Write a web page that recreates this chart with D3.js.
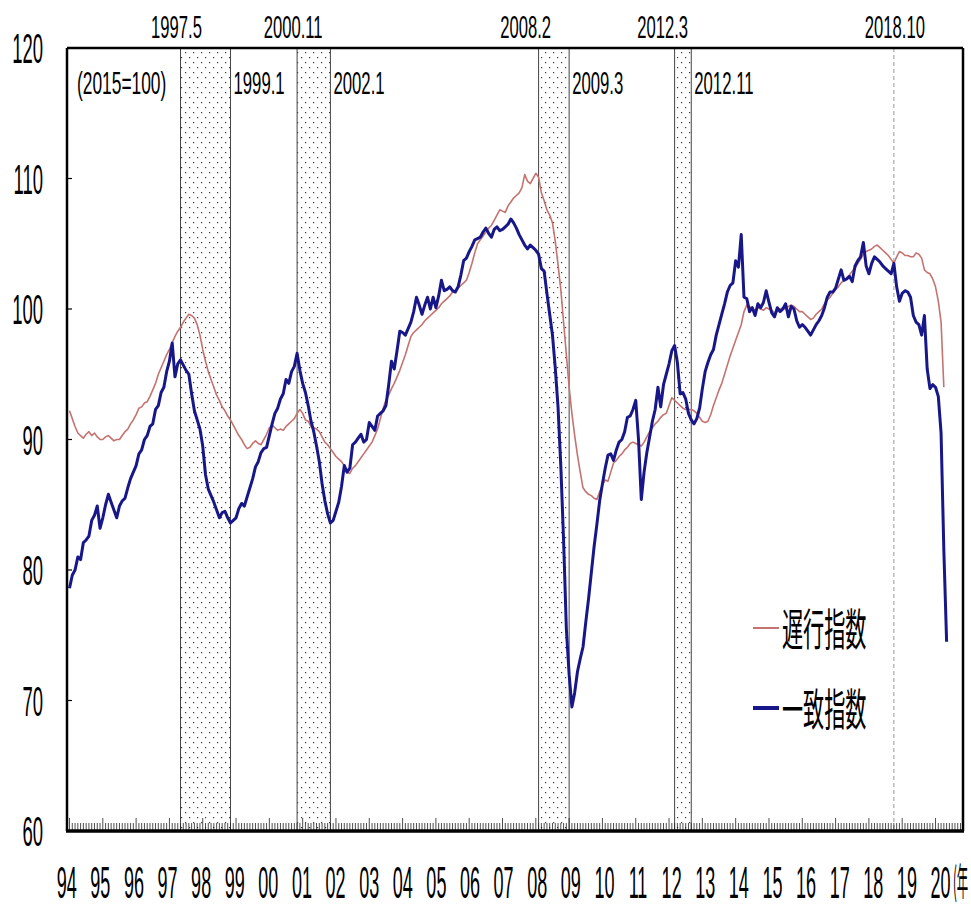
<!DOCTYPE html>
<html>
<head>
<meta charset="utf-8">
<script src="https://cdn.jsdelivr.net/npm/d3@7"></script>
<style>
  html, body { margin: 0; padding: 0; background: #fff; }
  svg { display: block; }
</style>
</head>
<body>
<div id="chart"></div>
<script>
// monthly index values (2015=100), first value is Jan 1994
var startYear = 1994;

var coincident = [
  78.6, 79.6, 80.0, 81.0, 80.8, 82.1, 82.3, 82.6, 83.8, 84.2, 84.9, 83.2,   // 1994
  84.0, 85.0, 85.8, 85.2, 84.6, 84.0, 84.9, 85.3, 85.5, 86.3, 87.0, 87.5,   // 1995
  88.0, 88.9, 89.2, 90.0, 90.3, 91.0, 91.2, 92.3, 92.6, 93.6, 94.0, 95.2,   // 1996
  96.0, 97.4, 94.8, 95.8, 96.1, 95.7, 95.3, 95.0, 93.5, 92.2, 91.5, 90.8,   // 1997
  89.5, 87.3, 86.2, 85.7, 85.2, 84.6, 84.0, 84.4, 84.5, 84.0, 83.6, 83.8,   // 1998
  84.0, 84.7, 85.1, 84.9, 85.6, 86.3, 87.0, 87.9, 88.3, 89.0, 89.3, 89.4,   // 1999
  90.3, 91.2, 92.0, 92.4, 93.1, 93.5, 94.6, 94.3, 95.2, 95.6, 96.6, 95.3,   // 2000
  94.3, 93.6, 92.6, 91.4, 90.6, 89.5, 88.3, 86.6, 85.3, 84.3, 83.6, 83.8,   // 2001
  84.5, 85.2, 86.4, 88.0, 87.5, 87.8, 89.6, 89.8, 90.1, 90.4, 89.8, 90.0,   // 2002
  91.3, 91.0, 90.7, 91.8, 92.0, 92.2, 92.6, 94.2, 96.0, 95.4, 96.8, 98.3,   // 2003
  98.2, 98.0, 98.5, 99.0, 99.8, 100.9, 100.3, 99.6, 100.3, 100.9, 100.0, 100.9, // 2004
  100.1, 101.0, 102.2, 101.4, 101.5, 101.7, 101.4, 101.3, 101.7, 102.6, 103.7, 103.9, // 2005
  104.4, 104.8, 105.3, 105.4, 105.5, 105.9, 106.2, 105.8, 105.5, 106.1, 106.3, 106.0, // 2006
  106.1, 106.3, 106.5, 106.9, 106.6, 106.2, 105.7, 105.3, 104.9, 104.6, 104.9, 104.7, // 2007
  104.5, 104.2, 103.1, 102.9, 101.2, 99.6, 98.0, 95.5, 92.5, 88.0, 82.3, 75.5,   // 2008
  72.0, 69.5, 70.6, 72.2, 73.2, 74.1, 76.0, 77.8, 79.8, 81.8, 83.5, 85.3,   // 2009
  86.6, 87.8, 88.8, 88.9, 88.4, 89.2, 89.8, 90.0, 90.6, 91.7, 91.8, 92.3,   // 2010
  93.0, 90.0, 85.4, 87.5, 89.0, 90.2, 91.4, 92.3, 94.0, 92.5, 94.2, 95.0,   // 2011
  95.8, 96.8, 97.2, 95.9, 93.5, 93.6, 93.1, 92.0, 91.5, 91.2, 91.6, 92.4,   // 2012
  93.9, 95.2, 95.9, 96.5, 96.9, 98.0, 98.8, 99.6, 100.4, 101.3, 101.8, 102.0, // 2013
  103.7, 103.2, 105.7, 100.9, 100.8, 99.8, 100.1, 99.5, 100.4, 100.1, 100.5, 101.4, // 2014
  100.5, 99.7, 99.4, 100.1, 99.8, 100.0, 100.4, 99.4, 100.2, 100.0, 99.1, 98.6, // 2015
  98.8, 98.6, 98.3, 98.0, 98.4, 98.8, 99.1, 99.5, 100.1, 100.9, 101.3, 101.3, // 2016
  101.6, 102.3, 103.0, 102.2, 102.3, 102.5, 102.1, 103.3, 103.7, 104.0, 105.1, 103.3, // 2017
  102.7, 103.5, 104.0, 103.8, 103.6, 103.3, 103.1, 102.9, 102.7, 103.5, 101.7, 100.6, // 2018
  101.2, 101.4, 101.3, 100.9, 99.5, 99.0, 98.8, 98.0, 99.5, 95.4, 93.9, 94.2, // 2019
  94.0, 93.3, 90.5, 81.5, 74.5                                               // 2020
];

var lagging = [
  92.2, 91.6, 91.0, 90.5, 90.3, 90.1, 90.4, 90.6, 90.3, 90.5, 90.2, 90.0,   // 1994
  90.0, 90.2, 90.3, 90.1, 89.9, 90.0, 90.0, 90.3, 90.6, 90.8, 91.2, 91.5,   // 1995
  91.9, 92.4, 92.5, 92.8, 92.9, 93.3, 93.8, 94.3, 95.0, 95.5, 96.0, 96.5,   // 1996
  96.9, 97.4, 97.9, 98.3, 98.6, 99.0, 99.3, 99.6, 99.5, 99.3, 98.8, 98.0,   // 1997
  96.9, 96.0, 95.2, 94.6, 94.0, 93.4, 93.0, 92.5, 92.2, 91.8, 91.5, 91.1,   // 1998
  90.7, 90.3, 90.0, 89.6, 89.3, 89.4, 89.7, 89.9, 89.7, 89.6, 90.0, 90.4,   // 1999
  90.9, 91.1, 90.9, 90.7, 90.8, 90.7, 91.0, 91.2, 91.4, 91.6, 92.0, 92.3,   // 2000
  92.0, 91.5, 91.4, 91.0, 90.9, 90.8, 90.6, 90.2, 89.8, 89.6, 89.3, 89.0,   // 2001
  88.7, 88.5, 88.3, 88.0, 87.5, 87.4, 87.8, 88.0, 88.3, 88.6, 88.9, 89.2,   // 2002
  89.5, 89.8, 90.3, 90.8, 91.6, 92.4, 93.0, 93.4, 93.9, 94.3, 94.8, 95.3,   // 2003
  95.9, 96.5, 97.2, 97.9, 98.2, 98.4, 98.6, 98.8, 99.1, 99.3, 99.5, 99.7,   // 2004
  99.9, 100.1, 100.4, 100.6, 100.8, 101.0, 101.3, 101.4, 101.6, 101.8, 102.0, 102.2, // 2005
  102.8, 103.5, 104.3, 105.0, 105.3, 105.6, 105.9, 106.2, 106.4, 106.8, 107.2, 107.6, // 2006
  107.5, 107.4, 107.9, 108.2, 108.5, 108.7, 108.9, 109.3, 110.3, 109.8, 109.6, 110.0, // 2007
  110.4, 110.1, 108.9, 108.3, 107.6, 107.2, 106.6, 105.2, 103.4, 101.5, 99.0, 96.5, // 2008
  94.0, 92.0, 90.3, 88.8, 87.5, 86.3, 86.0, 85.8, 85.7, 85.5, 85.4, 86.0,   // 2009
  86.5, 86.9, 86.8, 87.5, 88.2, 88.4, 88.7, 88.9, 89.2, 89.4, 89.7, 89.8,   // 2010
  89.7, 89.6, 89.5, 89.8, 90.2, 90.6, 90.9, 91.2, 91.4, 91.7, 91.9, 92.0,   // 2011
  92.6, 93.2, 93.0, 92.8, 92.6, 92.4, 92.3, 92.3, 92.3, 92.2, 92.0, 91.7,   // 2012
  91.4, 91.3, 91.4, 91.9, 92.6, 93.2, 93.8, 94.3, 95.0, 95.7, 96.4, 97.0,   // 2013
  97.6, 98.2, 98.8, 99.8, 100.3, 100.2, 100.0, 99.9, 100.1, 100.0, 99.9, 100.1, // 2014
  100.0, 99.9, 99.7, 99.8, 100.0, 100.1, 100.0, 100.2, 100.3, 100.2, 100.0, 99.8, // 2015
  99.8, 99.6, 99.4, 99.2, 99.3, 99.6, 99.8, 100.0, 100.4, 100.7, 100.9, 101.2, // 2016
  101.5, 101.7, 102.0, 102.2, 102.4, 102.6, 102.9, 103.1, 103.5, 103.8, 104.2, 104.4, // 2017
  104.5, 104.6, 104.8, 104.9, 104.7, 104.5, 104.3, 104.1, 103.8, 103.5, 104.0, 104.4, // 2018
  104.3, 104.1, 104.1, 104.0, 104.0, 104.3, 104.2, 103.9, 103.0, 102.8, 102.7, 102.3, // 2019
  101.7, 100.6, 99.0, 94.0                                                   // 2020
];

// business cycle peaks / troughs ("year.month")
var peaks   = ["1997.5", "2000.11", "2008.2", "2012.3", "2018.10"];
var troughs = ["1999.1", "2002.1", "2009.3", "2012.11", null];

var yearLabels = ["94","95","96","97","98","99","00","01","02","03","04","05","06",
                  "07","08","09","10","11","12","13","14","15","16","17","18","19","20"];
var yTicks = [60, 70, 80, 90, 100, 110, 120];

var seriesNames = ["遅行指数", "一致指数"];
var baseNote = "(2015=100)";
var yearUnit = "(年";

// ---- layout ----
var W = 971, H = 906;
var plot = {left: 67, right: 963, top: 48, bottom: 831};
var NUM_FONT = "'Liberation Sans', Arial, sans-serif";
var CJK_FONT = "'Noto Sans CJK JP', 'Noto Sans CJK SC', sans-serif";
var BLUE = "#17178a", BROWN = "#c47470";
var peakLabelDx = [-4, -4, -13, -12, 1];

function monthIndex(s) {
  var p = s.split(".");
  return (+p[0] - startYear) * 12 + (+p[1] - 1);
}

var x = d3.scaleLinear().domain([-0.9, 321.9]).range([plot.left, plot.right]);
var y = d3.scaleLinear().domain([60, 120]).range([plot.bottom, plot.top]);
var xYear = d3.scalePoint().domain(yearLabels).range([66.7, 940.5]);

var svg = d3.select("#chart").append("svg")
    .attr("width", W)
    .attr("height", H);

var defs = svg.append("defs");
var pat = defs.append("pattern")
    .attr("id", "dots")
    .attr("patternUnits", "userSpaceOnUse")
    .attr("width", 8)
    .attr("height", 10);
pat.append("rect").attr("x", 1).attr("y", 2).attr("width", 1.2).attr("height", 1.2).attr("fill", "#333");
pat.append("rect").attr("x", 5).attr("y", 7).attr("width", 1.2).attr("height", 1.2).attr("fill", "#333");

// condensed text (the original lettering is tall and narrow)
function ctext(g, txt, px, py, size, sx, anchor, family) {
  return g.append("text")
      .attr("transform", "translate(" + px + "," + py + ") scale(" + sx + ",1)")
      .attr("font-size", size)
      .attr("font-family", family || NUM_FONT)
      .attr("text-anchor", anchor)
      .attr("fill", "#000")
      .text(txt);
}

// ---- recession bands ----
var bands = peaks.map(function(p, i) {
  return {peak: p, trough: troughs[i], dx: peakLabelDx[i]};
});

var gBands = svg.append("g").attr("class", "bands");
bands.forEach(function(b) {
  var x0 = x(monthIndex(b.peak));
  if (b.trough) {
    // shading in the source stops just before the trough month
    var x1 = x(monthIndex(b.trough) - 2);
    gBands.append("rect")
        .attr("x", x0).attr("y", plot.top)
        .attr("width", x1 - x0).attr("height", plot.bottom - plot.top)
        .attr("fill", "url(#dots)");
    [x0, x1].forEach(function(xx) {
      gBands.append("line")
          .attr("x1", xx).attr("x2", xx)
          .attr("y1", plot.top).attr("y2", plot.bottom)
          .attr("stroke", "#444").attr("stroke-width", 1);
    });
    ctext(svg, b.trough, x1 + 3, 94, 31, 0.54, "start");
  } else {
    gBands.append("line")
        .attr("x1", x0).attr("x2", x0)
        .attr("y1", plot.top).attr("y2", plot.bottom)
        .attr("stroke", "#999").attr("stroke-width", 1)
        .attr("stroke-dasharray", "4,3");
  }
  ctext(svg, b.peak, x0 + b.dx, 38, 32, 0.52, "middle");
});

// ---- lines ----
var line = d3.line()
    .x(function(d, i) { return x(i); })
    .y(function(d) { return y(d); });

svg.append("path")
    .datum(lagging)
    .attr("d", line)
    .attr("fill", "none")
    .attr("stroke", BROWN)
    .attr("stroke-width", 1.6)
    .attr("stroke-linejoin", "round");

svg.append("path")
    .datum(coincident)
    .attr("d", line)
    .attr("fill", "none")
    .attr("stroke", BLUE)
    .attr("stroke-width", 3)
    .attr("stroke-linejoin", "round");

// ---- frame & ticks ----
var frame = svg.append("g").attr("class", "frame");
frame.append("line").attr("x1", plot.left).attr("x2", plot.right)
    .attr("y1", plot.top).attr("y2", plot.top)
    .attr("stroke", "#000").attr("stroke-width", 2.5);
frame.append("line").attr("x1", plot.left).attr("x2", plot.left)
    .attr("y1", plot.top).attr("y2", plot.bottom)
    .attr("stroke", "#000").attr("stroke-width", 2.5);
frame.append("line").attr("x1", plot.right).attr("x2", plot.right)
    .attr("y1", plot.top).attr("y2", plot.bottom)
    .attr("stroke", "#000").attr("stroke-width", 2.5);

// monthly ticks along the bottom, pointing up
var months = d3.range(0, 322);
frame.selectAll("line.mtick")
    .data(months)
  .enter().append("line")
    .attr("class", "mtick")
    .attr("x1", function(d) { return x(d); })
    .attr("x2", function(d) { return x(d); })
    .attr("y1", plot.bottom)
    .attr("y2", function(d) { return plot.bottom - (d % 12 === 0 ? 13 : 8); })
    .attr("stroke", "#222")
    .attr("stroke-width", 0.8);

frame.append("line").attr("x1", plot.left - 1).attr("x2", plot.right + 1)
    .attr("y1", plot.bottom).attr("y2", plot.bottom)
    .attr("stroke", "#000").attr("stroke-width", 3.5);

frame.selectAll("line.ytick")
    .data(yTicks.slice(1, -1))
  .enter().append("line")
    .attr("class", "ytick")
    .attr("x1", plot.left)
    .attr("x2", plot.left + 5)
    .attr("y1", function(d) { return y(d); })
    .attr("y2", function(d) { return y(d); })
    .attr("stroke", "#000")
    .attr("stroke-width", 1.2);

// ---- axis labels ----
yTicks.forEach(function(t) {
  ctext(svg, t, 43, y(t) + 15, 42, 0.44, "end");
});

yearLabels.forEach(function(l) {
  ctext(svg, l, xYear(l), 898, 44, 0.41, "middle");
});
// unit note squeezed against the right edge
ctext(svg, yearUnit, 953, 895, 38, 0.3, "start", CJK_FONT);

ctext(svg, baseNote, 77, 94, 31, 0.56, "start");

// ---- legend ----
var legend = [
  {name: seriesNames[0], color: BROWN, width: 2, y: 628, base: 646},
  {name: seriesNames[1], color: BLUE, width: 4, y: 708, base: 726}
];
legend.forEach(function(d) {
  svg.append("line")
      .attr("x1", 753).attr("x2", 779)
      .attr("y1", d.y).attr("y2", d.y)
      .attr("stroke", d.color)
      .attr("stroke-width", d.width);
  ctext(svg, d.name, 782, d.base, 44, 0.48, "start", CJK_FONT);
});
</script>
</body>
</html>
